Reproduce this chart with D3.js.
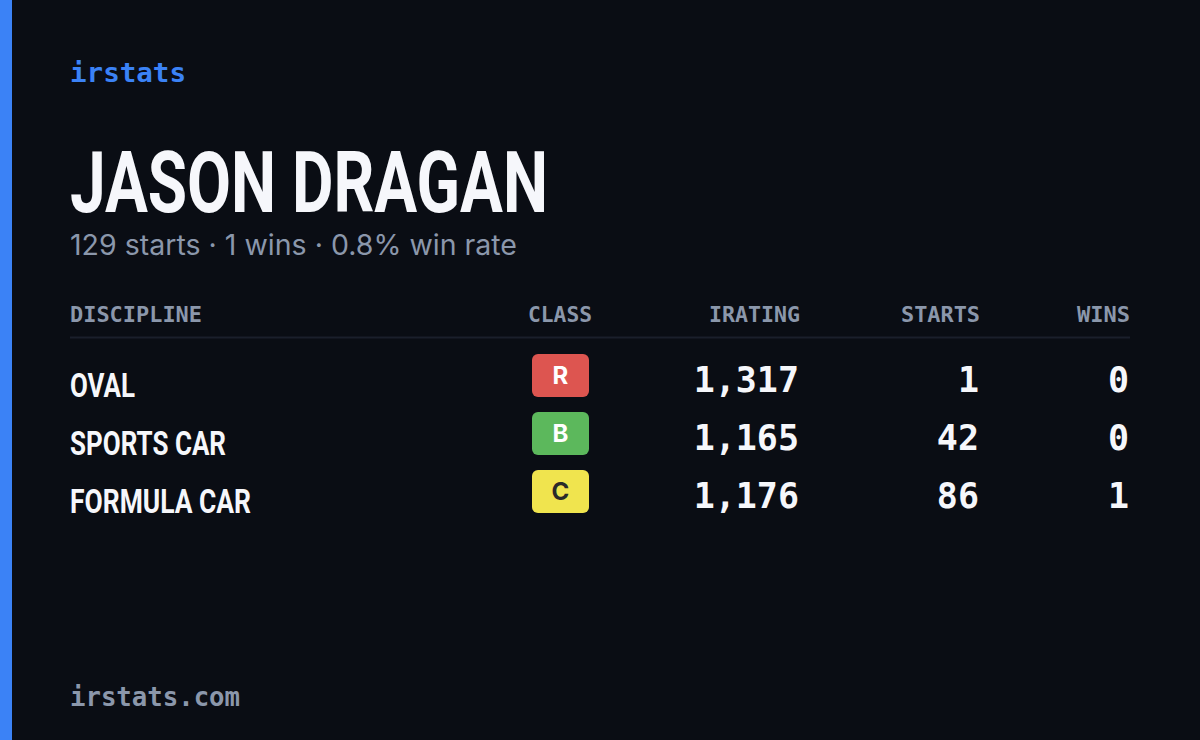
<!DOCTYPE html>
<html><head><meta charset="utf-8">
<script src="https://cdn.jsdelivr.net/npm/d3@7"></script>
<style>html,body{margin:0;padding:0;background:#0a0d14;}</style>
</head><body>
<svg id="c" width="1200" height="740"></svg>
<script>
const driverName = "JASON DRAGAN";
const subtitle = "129 starts · 1 wins · 0.8% win rate";
const columns = ["DISCIPLINE","CLASS","IRATING","STARTS","WINS"];
const disciplines = ["OVAL","SPORTS CAR","FORMULA CAR"];
const classes = ["R","B","C"];
const iratings = [1317,1165,1176];
const starts = [1,42,86];
const wins = [0,0,1];
const nameWidths = [65,156,181];
const headerWidths = [132,64,91,79,53];

const classColor = {R:"#dd5550",B:"#5cb85c",C:"#f0e44e"};
const classText = {R:"#ffffff",B:"#ffffff",C:"#2a2a2a"};
const mono = "'DejaVu Sans Mono', monospace";
const svg = d3.select("#c");
svg.append("rect").attr("width",1200).attr("height",740).attr("fill","#0a0d14");
svg.append("rect").attr("width",12).attr("height",740).attr("fill","#3b82f6");

svg.append("text").attr("x",70).attr("y",82).attr("font-family",mono).attr("font-size",27).attr("font-weight",600)
  .attr("fill","#3b82f6").attr("textLength",116).attr("lengthAdjust","spacingAndGlyphs").text("irstats");
svg.append("text").attr("x",70).attr("y",212).attr("font-family","Roboto").attr("font-weight",700)
  .attr("font-size",86).attr("fill","#f6f7fb").attr("textLength",478).attr("lengthAdjust","spacingAndGlyphs").text(driverName);
svg.append("text").attr("x",70).attr("y",255).attr("font-family","Inter").attr("font-size",28)
  .attr("fill","#8b97ab").attr("textLength",447).attr("lengthAdjust","spacingAndGlyphs").text(subtitle);

const colX = [70,560,800,980,1130];
const anchors = ["start","middle","end","end","end"];
svg.selectAll("text.hdr").data(columns).join("text").attr("class","hdr")
  .attr("x",(d,i)=>colX[i]).attr("y",322).attr("text-anchor",(d,i)=>anchors[i])
  .attr("font-family",mono).attr("font-size",21).attr("font-weight",600).attr("fill","#8b97ab")
  .attr("textLength",(d,i)=>headerWidths[i]).attr("lengthAdjust","spacingAndGlyphs").text(d=>d);
svg.append("line").attr("x1",70).attr("x2",1130).attr("y1",337.5).attr("y2",337.5)
  .attr("stroke","#1a1f2b").attr("stroke-width",2);

const y = d3.scalePoint().domain(disciplines).range([375,491]);
const fmt = d3.format(",");
const rows = svg.selectAll("g.row").data(disciplines).join("g").attr("class","row")
  .attr("transform",d=>`translate(0,${y(d)})`);
rows.append("text").attr("x",70).attr("y",22).attr("font-family","Roboto").attr("font-weight",700)
  .attr("font-size",33).attr("fill","#f6f7fb")
  .attr("textLength",(d,i)=>nameWidths[i]).attr("lengthAdjust","spacingAndGlyphs").text(d=>d);
rows.append("rect").attr("x",532).attr("y",-21).attr("width",57).attr("height",43).attr("rx",6)
  .attr("fill",(d,i)=>classColor[classes[i]]);
rows.append("text").attr("x",560.5).attr("y",9).attr("text-anchor","middle").attr("font-family","Inter")
  .attr("font-weight",700).attr("font-size",24).attr("fill",(d,i)=>classText[classes[i]]).text((d,i)=>classes[i]);
const vals = [iratings.map(fmt), starts, wins];
[799,979,1129].forEach((x,k)=>{
  rows.append("text").attr("x",x).attr("y",17).attr("text-anchor","end").attr("font-family",mono)
    .attr("font-size",35).attr("font-weight",600).attr("fill","#f6f7fb").text((d,i)=>vals[k][i]);
});

svg.append("text").attr("x",70).attr("y",706).attr("font-family",mono).attr("font-size",27).attr("font-weight",600)
  .attr("fill","#8b97ab").attr("textLength",170).attr("lengthAdjust","spacingAndGlyphs").text("irstats.com");
</script>
</body></html>
